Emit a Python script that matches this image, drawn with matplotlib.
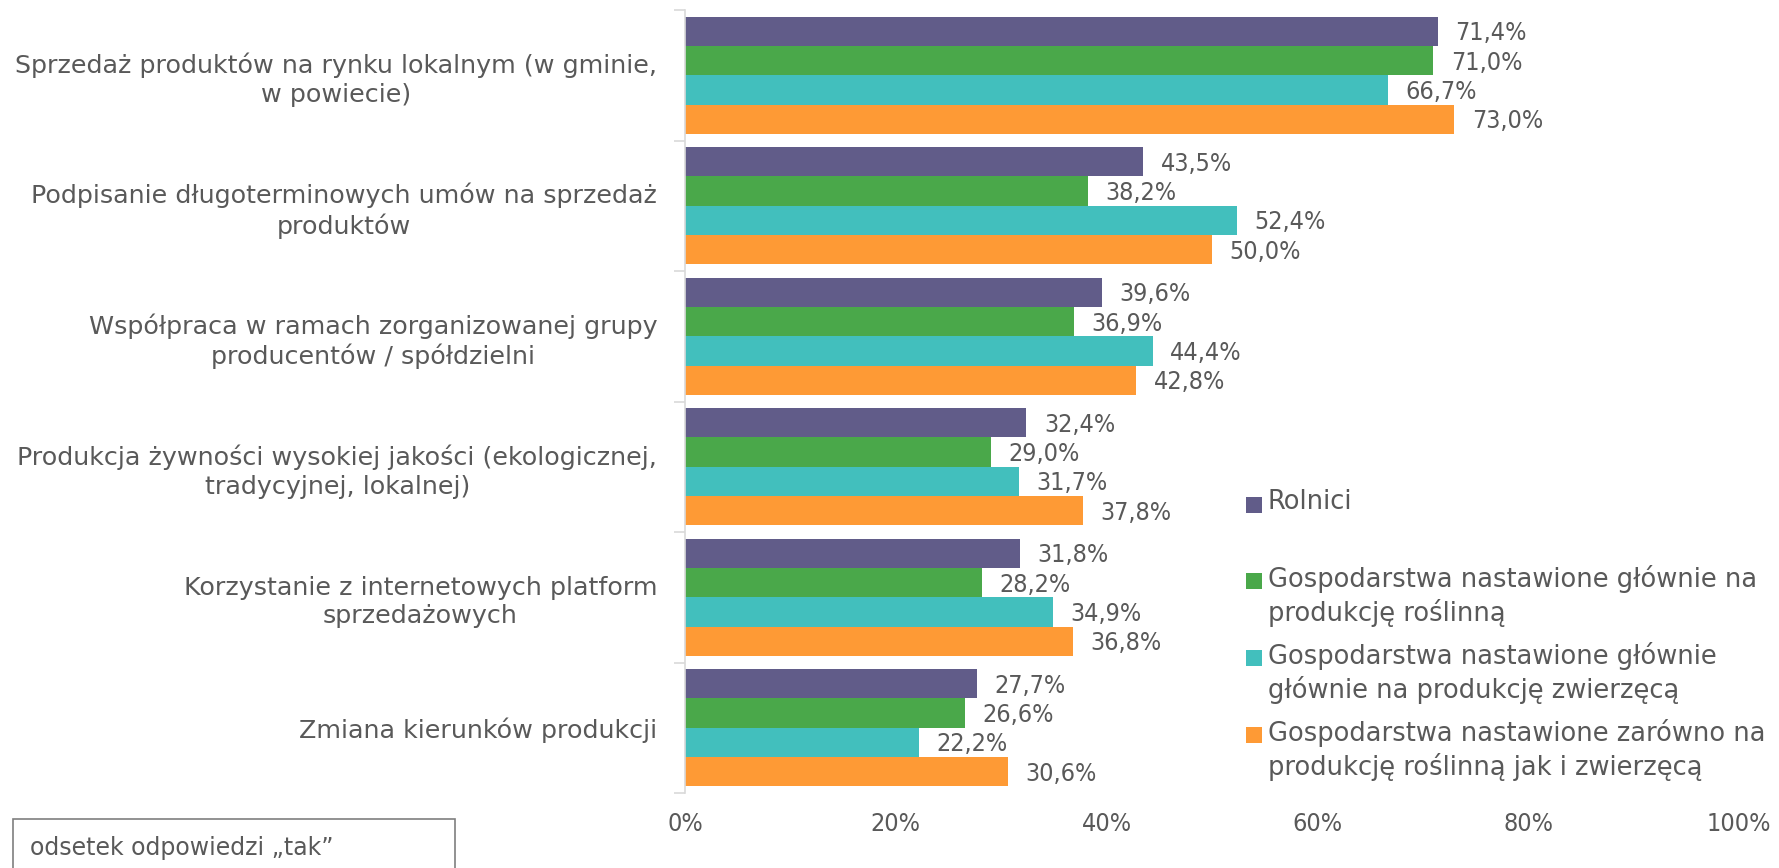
import matplotlib
matplotlib.use("Agg")
import matplotlib.pyplot as plt
from matplotlib.patches import Rectangle
import numpy as np

categories = [
    "Sprzedaż produktów na rynku lokalnym (w gminie,\nw powiecie)",
    "Podpisanie długoterminowych umów na sprzedaż\nproduktów",
    "Współpraca w ramach zorganizowanej grupy\nproducentów / spółdzielni",
    "Produkcja żywności wysokiej jakości (ekologicznej,\ntradycyjnej, lokalnej)",
    "Korzystanie z internetowych platform\nsprzedażowych",
    "Zmiana kierunków produkcji",
]
series_names = [
    "Rolnici",
    "Gospodarstwa nastawione głównie na\nprodukcję roślinną",
    "Gospodarstwa nastawione głównie\ngłównie na produkcję zwierzęcą",
    "Gospodarstwa nastawione zarówno na\nprodukcję roślinną jak i zwierzęcą",
]
rolnici = [71.4, 43.5, 39.6, 32.4, 31.8, 27.7]
roslinna = [71.0, 38.2, 36.9, 29.0, 28.2, 26.6]
zwierzeca = [66.7, 52.4, 44.4, 31.7, 34.9, 22.2]
mieszana = [73.0, 50.0, 42.8, 37.8, 36.8, 30.6]
series = [rolnici, roslinna, zwierzeca, mieszana]
colors = ["#615C89", "#4AA84A", "#42BFBD", "#FE9A35"]
xticks = [0, 20, 40, 60, 80, 100]
note = "odsetek odpowiedzi „tak”"

TXT = "#595959"
W, H = 1779, 868
fig = plt.figure(figsize=(W / 100, H / 100), dpi=100)
ax = fig.add_axes([685 / W, 1 - 793 / H, (1739 - 685) / W, (793 - 10) / H])

n = len(categories)
bh = 0.225
ypos = np.arange(n)
for i, (vals, c) in enumerate(zip(series, colors)):
    y = ypos - 0.3375 + i * bh
    bars = ax.barh(y, vals, height=bh, color=c, edgecolor="none", zorder=2)
    for b, v in zip(bars, vals):
        ax.text(v + 1.65, b.get_y() + bh / 2 + 0.015, f"{v:.1f}%".replace(".", ","),
                va="center", ha="left", fontsize=18, color=TXT, fontstretch="condensed")

ax.set_xlim(0, 100)
ax.set_ylim(n - 0.5, -0.5)
ax.set_xticks(xticks)
ax.set_xticklabels([f"{t}%" for t in xticks], fontsize=18, color=TXT, fontstretch="condensed")
ax.set_yticks(ypos)
ax.set_yticklabels(categories, fontsize=18.3, color=TXT, ha="right", multialignment="center",
                   linespacing=1.25)
ax.set_yticks(np.arange(n + 1) - 0.5, minor=True)
ax.tick_params(axis="y", which="major", length=0, pad=20)
ax.tick_params(axis="y", which="minor", length=8, color="#D9D9D9", width=1.2)
ax.tick_params(axis="x", length=0, pad=14)
for s in ["top", "right", "bottom"]:
    ax.spines[s].set_visible(False)
ax.spines["left"].set_color("#D9D9D9")
ax.spines["left"].set_linewidth(1.2)

# legend (manual layout, marker aligned with the first text line)
leg_y = [505, 581, 658, 735]
for name, c, yc in zip(series_names, colors, leg_y):
    fig.patches.append(Rectangle((1246 / W, 1 - (yc + 8) / H), 16 / W, 16 / H,
                                 transform=fig.transFigure, facecolor=c, edgecolor="none"))
    fig.text(1268 / W, 1 - (yc - 16) / H, name, ha="left", va="top", fontsize=18.5,
             color=TXT, linespacing=1.27)

# note box
fig.patches.append(Rectangle((13 / W, -0.05), (455 - 13) / W, 0.05 + (868 - 819) / H,
                             transform=fig.transFigure, facecolor="none",
                             edgecolor="#7F7F7F", linewidth=1.2))
fig.text(30 / W, 1 - 848 / H, note, ha="left", va="center", fontsize=17, color=TXT)

fig.savefig("out.png", dpi=100)
